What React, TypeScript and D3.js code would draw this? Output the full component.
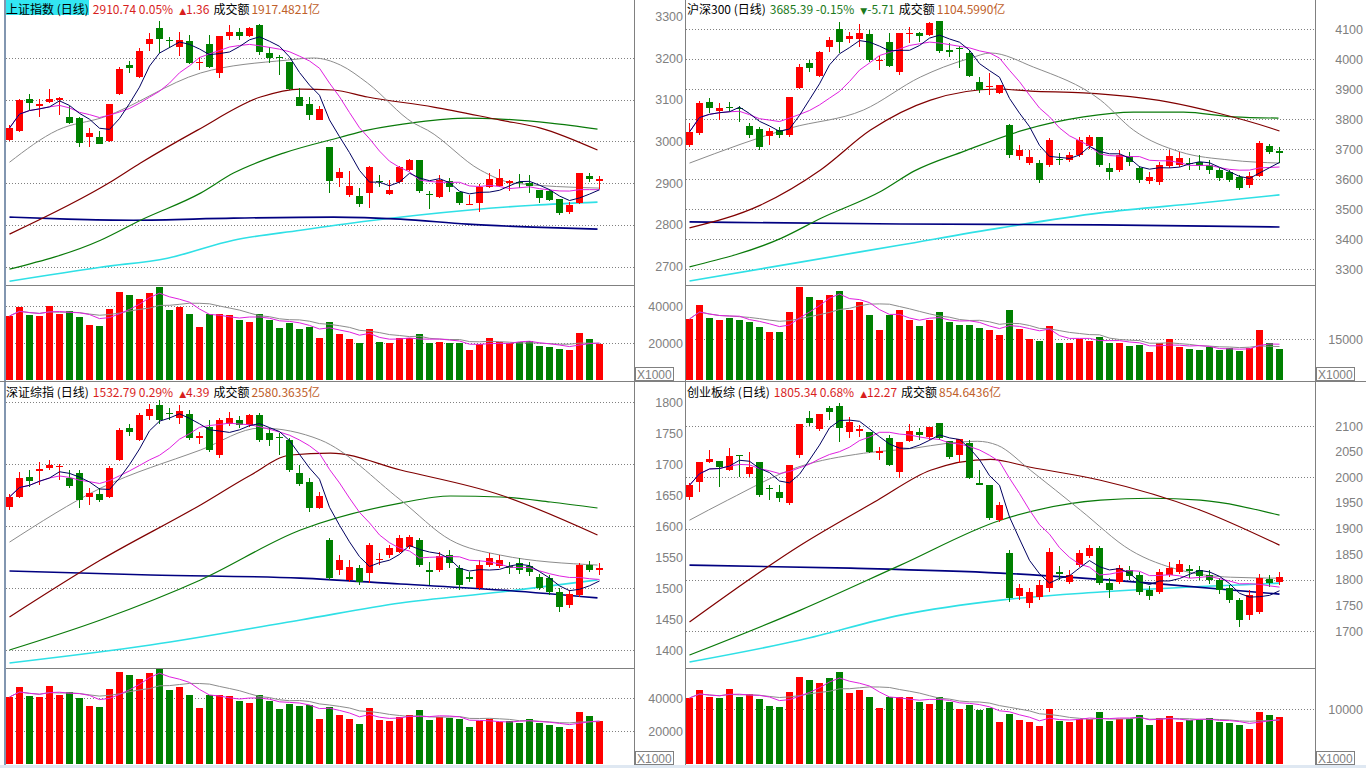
import React from "react";
import * as d3 from "d3";

type OHLC = [number, number, number, number]; // open, close, high, low
type Knot = [number, number]; // candle index, value

// ================= 上证指数 =================
const shCandles: OHLC[] = [
  [3003, 3032, 3039, 3001], [3025, 3099, 3101, 3022], [3101, 3091, 3114, 3075], [3085, 3090, 3102, 3058],
  [3094, 3102, 3126, 3092], [3099, 3104, 3106, 3063], [3058, 3044, 3085, 3042], [3056, 2996, 3058, 2986],
  [3010, 3020, 3032, 2986], [3010, 2994, 3025, 2993], [3001, 3090, 3090, 2999], [3114, 3174, 3178, 3112],
  [3183, 3176, 3193, 3164], [3154, 3217, 3224, 3152], [3234, 3246, 3260, 3217], [3272, 3246, 3289, 3212],
  [3242, 3240, 3250, 3224], [3226, 3243, 3262, 3205], [3241, 3188, 3255, 3186], [3188, 3191, 3202, 3171],
  [3234, 3178, 3255, 3176], [3164, 3253, 3253, 3152], [3253, 3262, 3279, 3243], [3262, 3253, 3272, 3243],
  [3253, 3272, 3274, 3250], [3279, 3214, 3282, 3207], [3212, 3200, 3226, 3188], [3203, 3201, 3207, 3159],
  [3190, 3126, 3190, 3123], [3106, 3085, 3128, 3085], [3090, 3063, 3106, 3051], [3051, 3078, 3085, 3051],
  [2986, 2905, 2986, 2876], [2912, 2926, 2936, 2890], [2871, 2893, 2929, 2866], [2869, 2850, 2888, 2842],
  [2876, 2938, 2941, 2840], [2905, 2904, 2919, 2890], [2874, 2883, 2907, 2871], [2902, 2938, 2941, 2900],
  [2931, 2955, 2957, 2929], [2955, 2881, 2955, 2876], [2874, 2872, 2881, 2838], [2866, 2907, 2919, 2864],
  [2905, 2890, 2912, 2878], [2878, 2852, 2878, 2847], [2847, 2850, 2871, 2847], [2852, 2890, 2898, 2830],
  [2890, 2910, 2924, 2888], [2893, 2912, 2934, 2890], [2900, 2905, 2907, 2881], [2903, 2901, 2922, 2888],
  [2900, 2893, 2919, 2876], [2883, 2864, 2883, 2852], [2881, 2859, 2886, 2857], [2862, 2828, 2862, 2823],
  [2830, 2847, 2854, 2826], [2852, 2924, 2924, 2850], [2917, 2910, 2924, 2902], [2905, 2910.74, 2917, 2886],
];
const shVolume: number[] = [
  34592, 39619, 35133, 34592, 40159, 35673, 37295, 34052, 29728, 29187, 38376, 47564, 45943, 43781, 47024,
  50267, 37835, 39457, 35673, 28647, 35673, 35673, 35133, 32430, 31349, 35673, 32430, 28106, 30809, 27566,
  28647, 22701, 31349, 24863, 22161, 20000, 27566, 20539, 20000, 22701, 22701, 24863, 20000, 20539, 20000,
  20000, 16215, 19458, 22701, 20539, 20000, 20539, 21080, 18377, 17837, 16756, 16215, 25404, 22161, 19458,
];
const shGray: Knot[] = [[0, 2950], [4.8, 3027], [9.4, 3058], [19.1, 3164], [27.8, 3195], [30.4, 3200], [33.1, 3183], [35.8, 3140], [40.4, 3044], [41.8, 3027], [47.1, 2931], [50.4, 2900], [59, 2888]];
const shMaroon: Knot[] = [[0, 2777.6], [10.1, 2902.4], [13.1, 2948], [18.8, 3027], [25.1, 3106.4], [29.1, 3125.6], [32.4, 3123.2], [35.8, 3106.4], [42.4, 3082.4], [49.1, 3051], [53.1, 3032], [58.8, 2979.2]];
const shGreen: Knot[] = [[0, 2693.6], [9.1, 2763], [13.1, 2811], [19.1, 2876], [22.4, 2924], [27.4, 2972], [33.1, 3010], [35.8, 3027], [40.8, 3046.4], [45.8, 3056], [49.1, 3053.6], [54.1, 3044], [58.8, 3029.6]];
const shNavy: Knot[] = [[0, 2818.4], [5.8, 2813.6], [12.4, 2811], [22.4, 2816], [32.4, 2818.4], [39.1, 2813.6], [45.8, 2801.6], [52.4, 2794.4], [58.8, 2789.6]];
const shCyan: Knot[] = [[0, 2664.8], [9.1, 2698.4], [15.8, 2720], [22.4, 2763], [29.1, 2787], [35.8, 2809], [45.8, 2835], [52.4, 2847], [58.8, 2854.4]];
const shPriceTicks = [2700, 2800, 2900, 3000, 3100, 3200, 3300];
const shGridTicks = [2700, 2800, 2900, 3000, 3100, 3200];
const shVolTicks = [20000, 40000];
const shTitle = { name: "上证指数 (日线)", quote: "2910.74 0.05%", change: "1.36", amount: "1917.4821亿", up: true };

// ================= 沪深300 =================
const hsCandles: OHLC[] = [
  [3713, 3757, 3787, 3707], [3753, 3853, 3860, 3747], [3857, 3837, 3870, 3820], [3827, 3837, 3853, 3797],
  [3840, 3837, 3857, 3823], [3837, 3833, 3843, 3790], [3777, 3747, 3787, 3737], [3767, 3707, 3773, 3697],
  [3743, 3760, 3770, 3713], [3763, 3747, 3773, 3737], [3747, 3873, 3873, 3740], [3903, 3973, 3983, 3900],
  [3987, 3970, 3997, 3957], [3943, 4023, 4027, 3940], [4040, 4063, 4073, 4023], [4100, 4057, 4123, 4020],
  [4067, 4077, 4090, 4053], [4067, 4087, 4117, 4040], [4083, 3997, 4097, 3990], [3993, 3997, 4010, 3963],
  [4057, 3977, 4087, 3973], [3957, 4087, 4087, 3947], [4083, 4087, 4107, 4053], [4087, 4077, 4090, 4057],
  [4080, 4120, 4123, 4077], [4127, 4027, 4127, 4020], [4030, 4023, 4053, 4007], [4037, 4033, 4043, 3970],
  [4020, 3943, 4030, 3940], [3923, 3897, 3940, 3887], [3907, 3910, 3953, 3880], [3887, 3913, 3913, 3883],
  [3780, 3680, 3783, 3670], [3677, 3697, 3713, 3663], [3653, 3673, 3697, 3647], [3653, 3597, 3663, 3587],
  [3647, 3730, 3737, 3640], [3667, 3663, 3687, 3647], [3663, 3680, 3690, 3657], [3680, 3730, 3740, 3673],
  [3710, 3740, 3747, 3700], [3740, 3647, 3740, 3640], [3637, 3623, 3653, 3597], [3630, 3680, 3697, 3623],
  [3677, 3657, 3690, 3643], [3637, 3597, 3643, 3587], [3593, 3607, 3623, 3583], [3590, 3647, 3657, 3580],
  [3643, 3677, 3697, 3637], [3647, 3670, 3690, 3640], [3653, 3650, 3670, 3630], [3657, 3643, 3680, 3630],
  [3647, 3630, 3663, 3617], [3630, 3603, 3637, 3593], [3623, 3597, 3630, 3590], [3607, 3570, 3613, 3563],
  [3580, 3610, 3623, 3570], [3610, 3720, 3727, 3607], [3710, 3691, 3717, 3683], [3693, 3685.39, 3707, 3653],
];
const hsVolume: number[] = [
  22317, 27439, 22683, 21951, 22683, 21951, 21219, 19390, 17561, 17561, 24878, 34024, 30366, 29268, 31097,
  32561, 25610, 28536, 23780, 18293, 23780, 25610, 21951, 19756, 21951, 24878, 21219, 20122, 20122, 19024,
  18293, 16463, 25610, 18659, 15000, 14268, 19756, 13537, 13537, 15000, 14268, 15732, 13537, 13537, 12439,
  12805, 10244, 13537, 15000, 12073, 11341, 10976, 12073, 10976, 11707, 10610, 11707, 18293, 13537, 11341,
];
const hsGray: Knot[] = [[0, 3653], [10.1, 3770], [17.4, 3830], [23.1, 3940], [25.4, 3973], [28.1, 4003], [30.1, 4020], [34.4, 3973], [41.1, 3863], [44.4, 3763], [49.1, 3690], [54.1, 3663], [59, 3653]];
const hsMaroon: Knot[] = [[0, 3437], [7.1, 3513], [13.1, 3630], [18.1, 3763], [24.1, 3863], [30.8, 3900], [34.1, 3893], [39.4, 3887], [47.8, 3857], [52.8, 3820], [58.1, 3770], [59, 3760]];
const hsGreen: Knot[] = [[0, 3307], [9.2, 3403], [13.2, 3470], [19.2, 3560], [22.5, 3627], [27.5, 3693], [33.4, 3763], [39.4, 3807], [44.4, 3823], [49.4, 3823], [54.4, 3807], [58.9, 3803]];
const hsNavy: Knot[] = [[0, 3457], [21.1, 3450], [41.1, 3447], [59, 3440]];
const hsCyan: Knot[] = [[0, 3260], [11.1, 3323], [21.1, 3380], [31.1, 3437], [41.1, 3487], [51.1, 3520], [59, 3547]];
const hsPriceTicks = [3300, 3400, 3500, 3600, 3700, 3800, 3900, 4000, 4100];
const hsGridTicks = [3300, 3400, 3500, 3600, 3700, 3800, 3900, 4000, 4100];
const hsVolTicks = [15000];
const hsTitle = { name: "沪深300 (日线)", quote: "3685.39 -0.15%", change: "-5.71", amount: "1104.5990亿", up: false };

// ================= 深证综指 =================
const szCandles: OHLC[] = [
  [1630.6, 1646.8, 1651.6, 1625.8], [1646.8, 1677.4, 1687, 1645], [1679, 1672.6, 1690, 1663], [1688.7, 1692, 1703, 1666],
  [1693.5, 1698.4, 1706, 1690], [1695, 1697, 1700, 1674], [1677, 1664.5, 1690, 1661], [1685.5, 1642, 1690, 1629],
  [1646.8, 1653, 1661, 1634], [1651.6, 1642, 1661, 1639], [1646.8, 1693.5, 1697, 1645], [1706.5, 1755, 1758, 1705],
  [1758, 1751.6, 1764.5, 1745], [1738.7, 1779, 1782, 1737], [1777.4, 1788.7, 1797, 1771], [1795, 1771, 1803, 1764.5],
  [1782, 1780.6, 1790, 1771], [1774, 1785.5, 1795, 1764.5], [1780.6, 1742, 1787, 1738.7], [1742, 1745, 1751.6, 1732],
  [1759.7, 1722.6, 1771, 1719], [1714.5, 1771, 1774, 1709.7], [1764.5, 1774, 1784, 1761], [1771, 1763, 1777.4, 1758],
  [1763, 1779, 1780.6, 1759.7], [1779, 1738.7, 1782, 1735.5], [1750, 1738.7, 1758, 1729], [1743.5, 1742, 1750, 1714.5],
  [1738.7, 1690, 1742, 1687], [1685.5, 1668, 1698, 1664.5], [1671, 1629, 1677, 1622.6], [1629, 1648, 1655, 1627],
  [1577.4, 1516, 1580.6, 1513], [1529, 1545, 1553, 1521], [1513, 1534, 1545, 1509.7], [1532, 1509.7, 1537, 1505],
  [1524, 1569, 1572.6, 1508], [1545, 1547, 1556, 1537], [1553, 1564.5, 1569, 1548.4], [1558, 1580.6, 1585.5, 1556],
  [1566, 1582, 1585.5, 1563], [1577.4, 1537, 1580.6, 1534], [1529, 1526, 1542, 1505], [1529, 1551.6, 1558, 1526],
  [1553, 1540, 1561, 1532], [1532, 1505, 1537, 1497], [1518, 1514.5, 1526, 1509.7], [1500, 1537, 1545, 1497],
  [1537, 1548.4, 1556, 1534], [1535.5, 1545, 1553, 1532], [1535.5, 1532, 1542, 1522.6], [1540, 1529, 1548, 1522.6],
  [1535.5, 1526, 1542, 1519], [1518, 1500, 1522.6, 1497], [1516, 1493.5, 1521, 1488.7], [1493.5, 1469, 1500, 1461],
  [1472.6, 1490, 1497, 1467.7], [1488.7, 1537, 1540, 1485.5], [1537, 1528.4, 1543.5, 1526], [1529, 1532.79, 1540, 1521],
];
const szVolume: number[] = [
  40602, 46662, 41208, 40602, 47268, 41814, 43632, 39996, 35148, 34542, 45450, 55752, 53934, 51510, 55146,
  58782, 44844, 46662, 41814, 33936, 41814, 41814, 41208, 38178, 36966, 41814, 38178, 33330, 36360, 35148,
  35754, 27270, 34542, 29694, 27270, 24240, 33936, 26664, 26058, 28482, 29694, 32724, 26664, 28482, 27876,
  27270, 22422, 26058, 27270, 25452, 26058, 24846, 27270, 24846, 23634, 22422, 21210, 31512, 29088, 26058,
];
const szGray: Knot[] = [[0, 1574], [9.1, 1661], [19.1, 1722.6], [25.1, 1758], [31.1, 1738.7], [39.1, 1642], [44.1, 1577.4], [49.1, 1553], [58.8, 1537]];
const szMaroon: Knot[] = [[0, 1453.2], [9.1, 1545], [19.1, 1634], [24.1, 1682], [28.1, 1714.5], [32.1, 1717.7], [39.1, 1690.3], [49.1, 1650], [58.8, 1585.5]];
const szGreen: Knot[] = [[0, 1400], [9.1, 1448.4], [19.1, 1513], [29.1, 1593.5], [39.1, 1637], [44.1, 1648.4], [49.1, 1646.8], [54.1, 1638.7], [58.8, 1629]];
const szNavy: Knot[] = [[0, 1527.4], [14.1, 1521], [29.1, 1516], [39.1, 1506.4], [49.1, 1496.8], [58.8, 1484]];
const szCyan: Knot[] = [[0, 1379], [14.1, 1408], [29.1, 1448.4], [39.1, 1475.8], [49.1, 1493.5], [58.8, 1513]];
const szPriceTicks = [1400, 1450, 1500, 1550, 1600, 1650, 1700, 1750, 1800];
const szGridTicks = [1400, 1500, 1600, 1700, 1800];
const szVolTicks = [20000, 40000];
const szTitle = { name: "深证综指 (日线)", quote: "1532.79 0.29%", change: "4.39", amount: "2580.3635亿", up: true };

// ================= 创业板综 =================
const cyCandles: OHLC[] = [
  [1961, 1984.4, 1988.3, 1955], [1990.3, 2029.2, 2030, 1970.8], [2029.2, 2035, 2052.6, 2027.3], [2031.2, 2019.5, 2032, 1980.5],
  [2013.6, 2041, 2056.5, 2011.7], [2042.9, 2041, 2043, 2000], [2005.8, 2019.5, 2048.7, 2000], [2029.2, 1964.9, 2030, 1961],
  [1979.5, 1978.6, 1984.4, 1955], [1970.8, 1959, 1984.4, 1951.3], [1949.3, 2023.4, 2024, 1945.4], [2042.9, 2103.3, 2104, 2037],
  [2115, 2105.2, 2128.6, 2099.4], [2093.6, 2122.8, 2123, 2089.7], [2134.5, 2126.7, 2138.4, 2111.1], [2138.4, 2095.5, 2144.2, 2068.2],
  [2087.7, 2107.2, 2117, 2076], [2089.7, 2093.6, 2101.3, 2078], [2087.7, 2048.7, 2088, 2046.8], [2046.8, 2050.7, 2058.5, 2033.1],
  [2076, 2023.4, 2081.9, 2021.4], [2009.7, 2068.2, 2068.5, 1998], [2070.2, 2089.7, 2103.3, 2068.2], [2087.7, 2081.9, 2095.5, 2072.1],
  [2078, 2097.5, 2098, 2072.1], [2105.2, 2076, 2105.5, 2072.1], [2070.2, 2039, 2070.5, 2035.1], [2042.9, 2074.1, 2074.5, 2027.3],
  [2066.3, 1998, 2072.1, 1997.5], [1988.3, 1984.4, 2013.6, 1984], [1984.4, 1920.1, 1984.6, 1916.2], [1916.2, 1945.4, 1951.3, 1912.3],
  [1851.9, 1764.2, 1857.7, 1756.4], [1768.1, 1783.7, 1791.5, 1760.3], [1754.4, 1775.9, 1783.7, 1744.7], [1766.1, 1789.5, 1799.3, 1760.3],
  [1783.7, 1853.8, 1861.6, 1775.9], [1814.8, 1810.9, 1826.5, 1799.3], [1795.4, 1809, 1818.7, 1791.5], [1828.5, 1851.9, 1857.7, 1824.6],
  [1846, 1861.6, 1867.5, 1842.1], [1861.6, 1793.4, 1865.5, 1789.5], [1793.4, 1779.8, 1803.1, 1764.2], [1795.4, 1822.6, 1828.5, 1791.5],
  [1818.7, 1807, 1826.5, 1799.3], [1809, 1775.9, 1814.8, 1770], [1779.8, 1768.1, 1787.6, 1760.3], [1775.9, 1814.8, 1820.7, 1772],
  [1809, 1822.6, 1834.3, 1805.1], [1814.8, 1830.4, 1838.2, 1810.9], [1820.7, 1816.8, 1828.5, 1803.1], [1818.7, 1807, 1826.5, 1799.3],
  [1809, 1799.3, 1818.7, 1791.5], [1799.3, 1779.8, 1803.1, 1772], [1783.7, 1760.3, 1789.5, 1754.4], [1760.3, 1721.3, 1764.2, 1707.7],
  [1731, 1770, 1779.8, 1721.3], [1736.9, 1803.1, 1812, 1733], [1801.2, 1793.07, 1808.9, 1785.5], [1795.4, 1805.34, 1814.8, 1789.5],
];
const cyVolume: number[] = [
  11999, 13453, 12181, 11999, 13635, 12181, 12726, 11817, 10544, 10363, 13090, 15817, 15271, 14726, 15635,
  16726, 12908, 13453, 12181, 10181, 12181, 12181, 12181, 11272, 10908, 12181, 11272, 9999, 10726, 9817,
  10181, 7636, 9090, 7999, 7636, 6908, 9999, 7817, 7636, 8181, 8181, 9454, 7817, 8181, 8181,
  8908, 7090, 8363, 8726, 7636, 7999, 7999, 8363, 7636, 7454, 7090, 6363, 9454, 8908, 8545,
];
const cyGray: Knot[] = [[0, 1916.2], [3.8, 1955.2], [10.8, 2019.5], [17.4, 2046.8], [22.4, 2056.5], [25.8, 2066.3], [28.8, 2070.2], [30.8, 2062.4], [34.1, 2013.6], [39.1, 1935.7], [44.1, 1857.7], [49.1, 1818.7], [54.1, 1805], [59, 1803]];
const cyMaroon: Knot[] = [[0, 1717.4], [11.1, 1867.5], [18.8, 1955.2], [24.1, 2013.6], [30.1, 2035], [34.1, 2019.5], [41.1, 1994.2], [51.1, 1935.7], [59, 1867.5]];
const cyGreen: Knot[] = [[0, 1653], [11.1, 1740.8], [21.1, 1828.5], [31.1, 1916.2], [41.1, 1955.2], [46.1, 1959], [51.1, 1955.2], [59, 1926]];
const cyNavy: Knot[] = [[0, 1828.5], [16.1, 1822.6], [31.1, 1813], [46.1, 1793.4], [59, 1772]];
const cyCyan: Knot[] = [[0, 1639.4], [11.1, 1682.3], [21.1, 1731], [31.1, 1760.3], [41.1, 1776], [59, 1793.4]];
const cyPriceTicks = [1700, 1750, 1800, 1850, 1900, 1950, 2000, 2050, 2100];
const cyGridTicks = [1700, 1800, 1900, 2000, 2100];
const cyVolTicks = [10000];
const cyTitle = { name: "创业板综 (日线)", quote: "1805.34 0.68%", change: "12.27", amount: "854.6436亿", up: true };

// ================= styles / layout =================
const RED = "#ff0000";
const GREEN = "#008000";
const AXIS_GRAY = "#808080";
const FRAME = "#808080";
const FONT_CJK = '"Noto Sans CJK SC", "Noto Sans", sans-serif';
const FONT_NUM = '"Liberation Sans", Arial, sans-serif';

const LONG_STYLES = {
  gray: { color: "#8c8c8c", width: 1 },
  maroon: { color: "#800000", width: 1.2 },
  green: { color: "#0a7a0a", width: 1.2 },
  navy: { color: "#000080", width: 1.6 },
  cyan: { color: "#2fe0e6", width: 1.6 },
};

interface TitleDef { name: string; quote: string; change: string; amount: string; up: boolean }
interface PanelDef {
  title: TitleDef;
  candles: OHLC[];
  volume: number[];
  longMA: { knots: Knot[]; style: { color: string; width: number } }[];
  priceTicks: number[];
  gridTicks: number[];
  volTicks: number[];
}
interface Box {
  id: string; x0: number; x1: number; cx: [number, number]; axisX: number; top: number;
  titleX: number; titleY: number; sep: number; bottom: number; volBase: number;
  priceY: [number, number]; volY: number; active: boolean;
}

const BOXES: Record<string, Box> = {
  tl: { id: "tl", x0: 6, x1: 634, cx: [9, 599], axisX: 683, top: 15, titleX: 6, titleY: 14, sep: 285, bottom: 381, volBase: 380, priceY: [266.5, 16.3], volY: 306, active: true },
  tr: { id: "tr", x0: 686, x1: 1315, cx: [689, 1279], axisX: 1363, top: 15, titleX: 687, titleY: 14, sep: 285, bottom: 381, volBase: 380, priceY: [269, 29], volY: 339, active: false },
  bl: { id: "bl", x0: 6, x1: 634, cx: [9, 599], axisX: 683, top: 398, titleX: 6, titleY: 396.5, sep: 668, bottom: 765, volBase: 764, priceY: [650, 402], volY: 698, active: false },
  br: { id: "br", x0: 686, x1: 1315, cx: [689, 1279], axisX: 1363, top: 398, titleX: 687, titleY: 396.5, sep: 668, bottom: 765, volBase: 764, priceY: [631, 426], volY: 709, active: false },
};

const mk = (title: TitleDef, candles: OHLC[], volume: number[], gray: Knot[], maroon: Knot[], green: Knot[], navy: Knot[], cyan: Knot[], priceTicks: number[], gridTicks: number[], volTicks: number[]): PanelDef => ({
  title, candles, volume, priceTicks, gridTicks, volTicks,
  longMA: [
    { knots: cyan, style: LONG_STYLES.cyan },
    { knots: navy, style: LONG_STYLES.navy },
    { knots: green, style: LONG_STYLES.green },
    { knots: maroon, style: LONG_STYLES.maroon },
    { knots: gray, style: LONG_STYLES.gray },
  ],
});

const PANELS: { def: PanelDef; box: Box }[] = [
  { def: mk(shTitle, shCandles, shVolume, shGray, shMaroon, shGreen, shNavy, shCyan, shPriceTicks, shGridTicks, shVolTicks), box: BOXES.tl },
  { def: mk(hsTitle, hsCandles, hsVolume, hsGray, hsMaroon, hsGreen, hsNavy, hsCyan, hsPriceTicks, hsGridTicks, hsVolTicks), box: BOXES.tr },
  { def: mk(szTitle, szCandles, szVolume, szGray, szMaroon, szGreen, szNavy, szCyan, szPriceTicks, szGridTicks, szVolTicks), box: BOXES.bl },
  { def: mk(cyTitle, cyCandles, cyVolume, cyGray, cyMaroon, cyGreen, cyNavy, cyCyan, cyPriceTicks, cyGridTicks, cyVolTicks), box: BOXES.br },
];

function movingAvg(vals: number[], n: number): number[] {
  return vals.map((_, i) => d3.mean(vals.slice(Math.max(0, i - n + 1), i + 1)) as number);
}

function Panel({ def, box }: { def: PanelDef; box: Box }) {
  const n = def.candles.length;
  const x = d3.scaleLinear().domain([0, n - 1]).range(box.cx);
  const y = d3.scaleLinear()
    .domain([def.priceTicks[0], def.priceTicks[def.priceTicks.length - 1]])
    .range(box.priceY);
  const vy = d3.scaleLinear().domain([0, def.volTicks[def.volTicks.length - 1]]).range([box.volBase, box.volY]);

  const closes = def.candles.map((c) => c[1]);
  const ma5 = movingAvg(closes, 5);
  const ma10 = movingAvg(closes, 10);
  const vma5 = movingAvg(def.volume, 5);
  const vma10 = movingAvg(def.volume, 10);

  const px = (i: number) => Math.round(x(i));
  const lineIdx = d3.line<number>().x((_, i) => px(i) + 0.5).y((v) => y(v));
  const lineVol = d3.line<number>().x((_, i) => px(i) + 0.5).y((v) => vy(v));
  const lineKnot = d3.line<Knot>().x((k) => x(k[0]) + 0.5).y((k) => y(k[1])).curve(d3.curveMonotoneX);

  const clipP = `clip-p-${box.id}`;
  const clipV = `clip-v-${box.id}`;
  const t = def.title;
  const valColor = t.up ? "#d81e1e" : "#1c7a1c";

  return (
    <g>
      <defs>
        <clipPath id={clipP}>
          <rect x={box.x0} y={box.top} width={box.x1 - box.x0} height={box.sep - box.top} />
        </clipPath>
        <clipPath id={clipV}>
          <rect x={box.x0} y={box.sep + 1} width={box.x1 - box.x0} height={box.bottom - box.sep - 1} />
        </clipPath>
      </defs>

      {/* title */}
      {box.active && <rect x={box.titleX - 1} y={0} width={84} height={15} fill="#33e6f2" />}
      <text x={box.titleX} y={box.titleY} fontFamily={FONT_CJK} fontSize={12}>
        <tspan fill="#000">{t.name}</tspan>
        <tspan dx={4} fill={valColor}>{t.quote}</tspan>
        <tspan dx={6} fill={valColor} fontFamily='"DejaVu Sans", sans-serif' fontSize={9}>{t.up ? "▲" : "▼"}</tspan>
        <tspan fill={valColor}>{t.change}</tspan>
        <tspan dx={4} fill="#000">成交额</tspan>
        <tspan dx={2} fill="#c0602a">{t.amount}</tspan>
      </text>

      {/* price grid */}
      {def.gridTicks.map((g) => {
        const yy = Math.round(y(g)) + 0.5;
        if (yy < box.top + 2 || yy > box.sep - 1) return null;
        return <line key={"g" + g} x1={box.x0} x2={box.x1} y1={yy} y2={yy} stroke={AXIS_GRAY} strokeDasharray="1 2" strokeWidth={1} />;
      })}
      {/* price axis labels */}
      {def.priceTicks.map((tk) => (
        <text key={"t" + tk} x={box.axisX} y={y(tk) + 4.5} textAnchor="end" fontFamily={FONT_NUM} fontSize={12.5} fill={AXIS_GRAY}>{tk}</text>
      ))}

      {/* volume grid & labels */}
      {def.volTicks.map((tk) => {
        const yy = Math.round(vy(tk)) + 0.5;
        return (
          <g key={"v" + tk}>
            <line x1={box.x0} x2={box.x1} y1={yy} y2={yy} stroke={AXIS_GRAY} strokeDasharray="1 2" />
            <text x={box.axisX} y={vy(tk) + 4.5} textAnchor="end" fontFamily={FONT_NUM} fontSize={12.5} fill={AXIS_GRAY}>{tk}</text>
          </g>
        );
      })}

      <g clipPath={`url(#${clipP})`}>
        {def.longMA.map((m, k) => (
          <path key={"l" + k} d={lineKnot(m.knots) || ""} fill="none" stroke={m.style.color} strokeWidth={m.style.width} />
        ))}
        {def.candles.map((c, i) => {
          const [o, cl, h, l] = c;
          const col = cl >= o ? RED : GREEN;
          const cx = px(i);
          const top = Math.round(y(Math.max(o, cl)));
          const bot = Math.round(y(Math.min(o, cl)));
          return (
            <g key={"c" + i}>
              <line x1={cx + 0.5} x2={cx + 0.5} y1={Math.round(y(h))} y2={Math.round(y(l))} stroke={col} strokeWidth={1} />
              <rect x={cx - 3} y={top} width={7} height={Math.max(1, bot - top)} fill={col} />
            </g>
          );
        })}
        <path d={lineIdx(ma10) || ""} fill="none" stroke="#e020e0" strokeWidth={1} />
        <path d={lineIdx(ma5) || ""} fill="none" stroke="#000060" strokeWidth={1} />
      </g>

      <g clipPath={`url(#${clipV})`}>
        {def.volume.map((v, i) => {
          const [o, cl] = def.candles[i];
          const col = cl >= o ? RED : GREEN;
          const top = Math.round(vy(v));
          return <rect key={"b" + i} x={px(i) - 3} y={top} width={7} height={box.volBase - top} fill={col} />;
        })}
        <path d={lineVol(vma10) || ""} fill="none" stroke="#8c8c8c" strokeWidth={1} />
        <path d={lineVol(vma5) || ""} fill="none" stroke="#e020e0" strokeWidth={1} />
      </g>

      {/* price / volume separator */}
      <line x1={box.x0 - 1} x2={box.x1} y1={box.sep + 0.5} y2={box.sep + 0.5} stroke={FRAME} />
      {/* X1000 box */}
      <rect x={box.x1 + 1.5} y={box.bottom - 13.5} width={38} height={13} fill="#fff" stroke={AXIS_GRAY} />
      <text x={box.x1 + 3} y={box.bottom - 2.5} fontFamily={FONT_NUM} fontSize={12} fill={AXIS_GRAY}>X1000</text>
    </g>
  );
}

export default function App() {
  return (
    <div style={{ position: "fixed", left: 0, top: 0, width: 1366, height: 768, background: "#fff", overflow: "hidden" }}>
      <svg width={1366} height={768} style={{ display: "block" }}>
        <rect x={0} y={0} width={1366} height={768} fill="#fff" />
        {PANELS.map((p) => (
          <Panel key={p.box.id} def={p.def} box={p.box} />
        ))}
        {/* frame */}
        <line x1={5} x2={5} y1={0} y2={768} stroke="#8296b0" strokeWidth={2} />
        <line x1={634.5} x2={634.5} y1={0} y2={768} stroke={FRAME} />
        <line x1={685.5} x2={685.5} y1={0} y2={768} stroke={FRAME} />
        <line x1={1315.5} x2={1315.5} y1={0} y2={768} stroke={FRAME} />
        <line x1={0} x2={1366} y1={381.5} y2={381.5} stroke={FRAME} />
        <rect x={0} y={765} width={1366} height={3} fill="#dfe8f2" />
      </svg>
    </div>
  );
}
